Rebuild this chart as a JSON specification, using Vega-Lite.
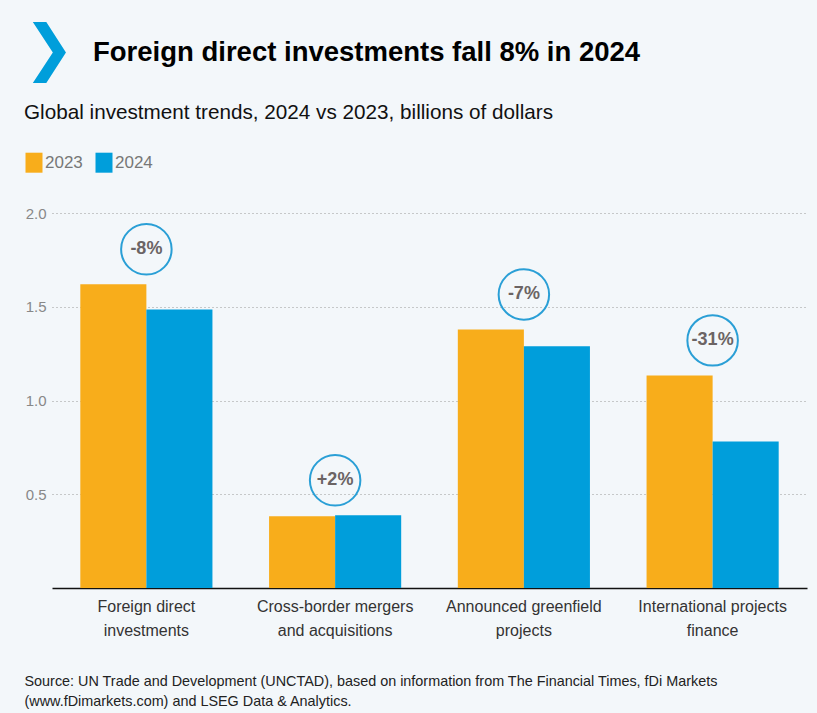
{
  "$schema": "https://vega.github.io/schema/vega-lite/v6.json",
  "width": 755,
  "height": 375,
  "autosize": {"type": "none"},
  "padding": {"left": 52, "top": 213, "right": 10, "bottom": 125},
  "background": "#f3f7fa",
  "config": {"view": {"stroke": null}},
  "title": {
    "text": "Foreign direct investments fall 8% in 2024",
    "anchor": "start",
    "frame": "group",
    "dx": 41,
    "offset": -48,
    "font": "Liberation Sans",
    "fontSize": 27.5,
    "fontWeight": "bold",
    "color": "#000000"
  },
  "data": {
    "values": [
      {"category": "Foreign direct\ninvestments", "year": "2023", "value": 1.62, "change": "-8%"},
      {"category": "Foreign direct\ninvestments", "year": "2024", "value": 1.485, "change": "-8%"},
      {"category": "Cross-border mergers\nand acquisitions", "year": "2023", "value": 0.383, "change": "+2%"},
      {"category": "Cross-border mergers\nand acquisitions", "year": "2024", "value": 0.388, "change": "+2%"},
      {"category": "Announced greenfield\nprojects", "year": "2023", "value": 1.379, "change": "-7%"},
      {"category": "Announced greenfield\nprojects", "year": "2024", "value": 1.289, "change": "-7%"},
      {"category": "International projects\nfinance", "year": "2023", "value": 1.134, "change": "-31%"},
      {"category": "International projects\nfinance", "year": "2024", "value": 0.782, "change": "-31%"}
    ]
  },
  "layer": [
    {
      "mark": {"type": "bar"},
      "encoding": {
        "x": {
          "field": "category",
          "type": "nominal",
          "sort": null,
          "scale": {"paddingInner": 0.3, "paddingOuter": 0.15},
          "axis": {
            "labelExpr": "split(datum.label, '\\n')",
            "labelAngle": 0,
            "labelFont": "Liberation Sans",
            "labelFontSize": 16,
            "labelColor": "#333333",
            "labelPadding": 10,
            "labelLineHeight": 24,
            "ticks": false,
            "domain": true,
            "domainColor": "#111111",
            "domainWidth": 1.5,
            "title": ["Source: UN Trade and Development (UNCTAD), based on information from The Financial Times, fDi Markets", "(www.fDimarkets.com) and LSEG Data & Analytics."],
            "titleX": -28,
            "titleY": 97,
            "titleAlign": "left",
            "titleBaseline": "alphabetic",
            "titleAnchor": "start",
            "titleFont": "Liberation Sans",
            "titleFontSize": 14.4,
            "titleFontWeight": "normal",
            "titleColor": "#222222",
            "titleLineHeight": 20,
            "titleLimit": 1000
          }
        },
        "xOffset": {"field": "year", "type": "nominal"},
        "y": {
          "field": "value",
          "type": "quantitative",
          "scale": {"domain": [0, 2]},
          "axis": {
            "values": [0.5, 1, 1.5, 2],
            "format": ".1f",
            "ticks": false,
            "domain": false,
            "grid": true,
            "gridDash": [1, 3],
            "gridColor": "#999999",
            "gridWidth": 1,
            "labelFont": "Liberation Sans",
            "labelFontSize": 15,
            "labelColor": "#888888",
            "labelPadding": 6,
            "title": "❯",
            "titleX": -29,
            "titleY": -146,
            "titleAngle": 0,
            "titleAlign": "left",
            "titleBaseline": "alphabetic",
            "titleFont": "DejaVu Sans",
            "titleFontSize": 61,
            "titleFontWeight": "normal",
            "titleColor": "#009edb"
          }
        },
        "color": {
          "field": "year",
          "type": "nominal",
          "scale": {"range": ["#f8ad1b", "#009edb"]},
          "legend": {
            "orient": "none",
            "legendX": -28,
            "legendY": -110,
            "direction": "horizontal",
            "title": "Global investment trends, 2024 vs 2023, billions of dollars",
            "titleFont": "Liberation Sans",
            "titleFontSize": 20.7,
            "titleFontWeight": "normal",
            "titleColor": "#111111",
            "titlePadding": 29,
            "titleLimit": 800,
            "symbolType": "M-0.85,-1L0.85,-1L0.85,1L-0.85,1Z",
            "symbolSize": 400,
            "symbolStrokeWidth": 0,
            "labelFont": "Liberation Sans",
            "labelFontSize": 17,
            "labelColor": "#777777",
            "labelOffset": 1,
            "columnPadding": 11
          }
        }
      }
    },
    {
      "transform": [{"aggregate": [{"op": "max", "field": "value", "as": "top"}], "groupby": ["category", "change"]}],
      "mark": {"type": "point", "shape": "circle", "size": 2550, "filled": false, "stroke": "#2a9fd6", "strokeWidth": 2, "opacity": 1, "yOffset": -35},
      "encoding": {
        "x": {"field": "category", "type": "nominal", "sort": null},
        "y": {"field": "top", "type": "quantitative"}
      }
    },
    {
      "transform": [{"aggregate": [{"op": "max", "field": "value", "as": "top"}], "groupby": ["category", "change"]}],
      "mark": {"type": "text", "font": "Liberation Sans", "fontWeight": "bold", "fontSize": 18, "color": "#6b6464", "baseline": "middle", "align": "center", "yOffset": -35},
      "encoding": {
        "x": {"field": "category", "type": "nominal", "sort": null},
        "y": {"field": "top", "type": "quantitative"},
        "text": {"field": "change"}
      }
    }
  ]
}
